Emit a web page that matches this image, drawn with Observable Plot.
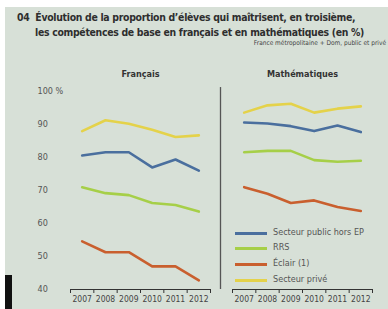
<!DOCTYPE html>
<html><head><meta charset="utf-8">
<script src="https://cdn.jsdelivr.net/npm/d3@7"></script>
<script src="https://cdn.jsdelivr.net/npm/@observablehq/plot@0.6"></script>
<style>
html,body{margin:0;padding:0;background:#fff;}
#wrap{position:relative;width:388px;height:309px;overflow:hidden;background:#fff;}
#bg{position:absolute;left:5px;top:7px;width:383px;height:302px;background:#d7e0d7;}
.t{position:absolute;font-family:"DejaVu Sans Condensed","DejaVu Sans";font-weight:bold;color:#2e2e2e;white-space:nowrap;font-size:10.4px;letter-spacing:-0.3px;}
.s{position:absolute;font-family:"DejaVu Sans Condensed","DejaVu Sans";color:#444;white-space:nowrap;font-size:6.5px;}
#chart{position:absolute;left:0;top:50px;}
#blk{position:absolute;left:5px;top:275px;width:7px;height:34px;background:#111;}
.lg{position:absolute;font-family:"DejaVu Sans Condensed","DejaVu Sans";font-size:9px;color:#555;white-space:nowrap;}
.lg i{position:absolute;left:-38px;top:5px;width:32px;height:3px;}
</style></head>
<body><div id="wrap">
<div id="bg"></div>
<div class="t" style="left:17px;top:11px;">04&nbsp; Évolution de la proportion d’élèves qui maîtrisent, en troisième,</div>
<div class="t" style="left:35px;top:26px;">les compétences de base en français et en mathématiques (en %)</div>
<div class="s" style="right:2px;top:39px;">France métropolitaine + Dom, public et privé</div>
<div id="chart"></div>
<div id="legend"></div>
<div id="blk"></div>
</div>
<script>
const years = [2007, 2008, 2009, 2010, 2011, 2012];
const subjects = ["Français", "Mathématiques"];
const seriesNames = ["Secteur public hors EP", "RRS", "Éclair (1)", "Secteur privé"];
const seriesColors = ["#4a6f9e", "#a6cf48", "#c95f2e", "#e4d24a"];
const yTicks = [40, 50, 60, 70, 80, 90, 100];
const yTickLabels = ["40", "50", "60", "70", "80", "90", "100 %"];
// Français
const frPublic = [80.6, 81.6, 81.6, 77.0, 79.4, 76.0];
const frRRS    = [71.0, 69.2, 68.6, 66.2, 65.6, 63.6];
const frEclair = [54.6, 51.3, 51.3, 47.0, 47.0, 42.8];
const frPrive  = [88.0, 91.3, 90.2, 88.4, 86.2, 86.7];
// Mathématiques
const maPublic = [90.6, 90.3, 89.5, 88.0, 89.7, 87.7];
const maRRS    = [81.6, 82.0, 82.0, 79.2, 78.7, 79.0];
const maEclair = [71.0, 69.0, 66.2, 67.0, 65.0, 63.8];
const maPrive  = [93.6, 95.8, 96.3, 93.6, 94.8, 95.5];

const table = [];
const add = (subject, name, vals) => vals.forEach((v, i) => table.push({subject, serie: name, year: years[i], value: v}));
add("Français", seriesNames[0], frPublic);
add("Français", seriesNames[1], frRRS);
add("Français", seriesNames[2], frEclair);
add("Français", seriesNames[3], frPrive);
add("Mathématiques", seriesNames[0], maPublic);
add("Mathématiques", seriesNames[1], maRRS);
add("Mathématiques", seriesNames[2], maEclair);
add("Mathématiques", seriesNames[3], maPrive);

const halfYears = [2006.5, ...years.map(y => y + 0.5)];
const font = "DejaVu Sans Condensed, DejaVu Sans";

const chart = Plot.plot({
  width: 388, height: 259,
  marginTop: 41, marginBottom: 20, marginLeft: 70, marginRight: 16,
  style: {background: "transparent", fontFamily: font},
  fx: {domain: subjects, paddingInner: 0.136, paddingOuter: 0, axis: null, label: null},
  x: {domain: [2006.5, 2012.5], axis: null, label: null},
  y: {domain: [40, 100], axis: null, label: null},
  color: {domain: seriesNames, range: seriesColors},
  marks: [
    Plot.axisY({ticks: yTicks, label: null, tickFormat: (d) => yTickLabels[yTicks.indexOf(d)], tickSize: 0, tickPadding: 0, textAnchor: "start", dx: -33, fontSize: 9, fill: "#555"}),
    Plot.axisX({ticks: halfYears, label: null, tickSize: 4, tickFormat: () => "", stroke: "#333"}),
    Plot.axisX({ticks: years, label: null, tickSize: 0, tickPadding: 6, tickFormat: d => String(d), fontSize: 8.5, fill: "#444"}),
    Plot.ruleY([40], {stroke: "#333", strokeWidth: 1}),
    Plot.ruleX([{subject: "Mathématiques", x: 2006.5}], {fx: "subject", x: "x", y1: 40, y2: 101.2, dx: -12, stroke: "#555", strokeWidth: 1.3}),
    Plot.line(table, {fx: "subject", x: "year", y: "value", z: "serie", stroke: "serie", strokeWidth: 2.6, strokeLinejoin: "round", strokeLinecap: "round"}),
    Plot.text(subjects, {fx: d => d, text: d => d, frameAnchor: "top", dy: -21, fontWeight: "bold", fontSize: 9, fill: "#333"})
  ]
});
document.getElementById("chart").appendChild(chart);

const lg = document.getElementById("legend");
const rowTops = [227, 242, 258, 274];
seriesNames.forEach((n, i) => {
  const d = document.createElement("div");
  d.className = "lg";
  d.style.left = "273px";
  d.style.top = rowTops[i] + "px";
  d.innerHTML = `<i style="background:${seriesColors[i]}"></i>${n}`;
  lg.appendChild(d);
});
</script>
</body></html>
